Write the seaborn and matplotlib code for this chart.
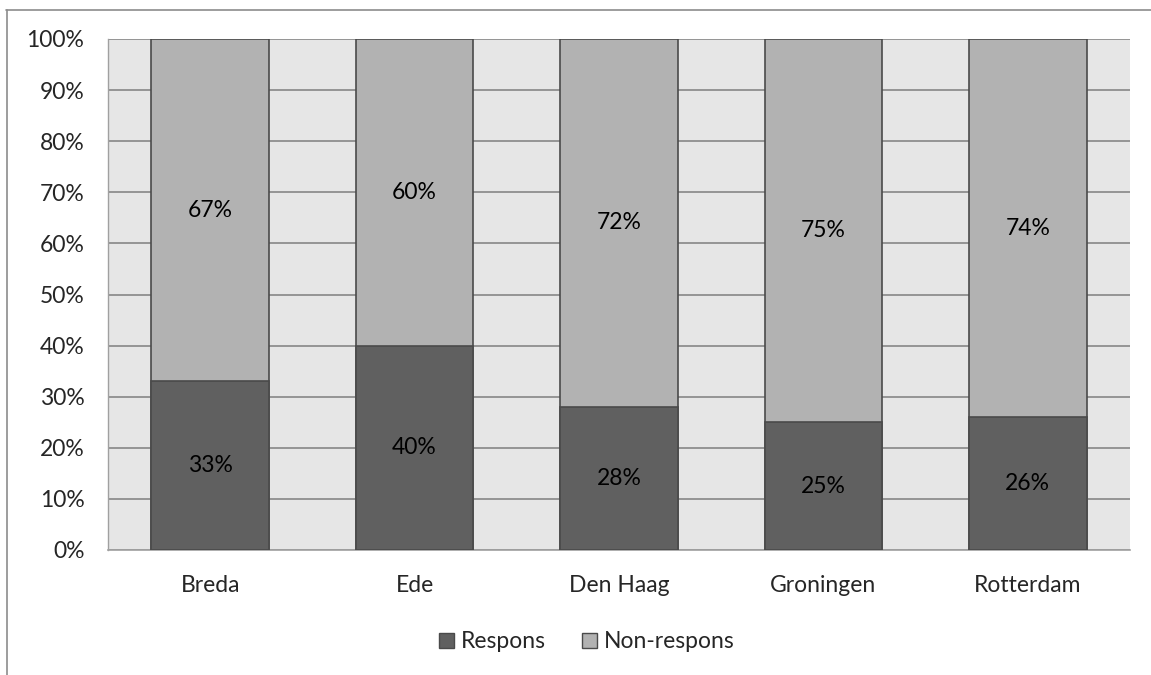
import matplotlib
matplotlib.use("Agg")
import matplotlib.pyplot as plt
import seaborn as sns
import pandas as pd
from matplotlib.lines import Line2D
from matplotlib.patches import Patch

cities = ["Breda", "Ede", "Den Haag", "Groningen", "Rotterdam"]
respons = [33, 40, 28, 25, 26]
non_respons = [67, 60, 72, 75, 74]
yticks = [0, 10, 20, 30, 40, 50, 60, 70, 80, 90, 100]

dark = "#606060"
light = "#b2b2b2"
edge = "#4a4a4a"
FS = 16.5

sns.set_theme(style="white")
plt.rcParams['font.family'] = ['Lato', 'DejaVu Sans']

df = pd.DataFrame({"city": cities, "respons": respons, "non": non_respons})
df["total"] = df["respons"] + df["non"]

fig = plt.figure(figsize=(11.51, 6.75), dpi=100)
ax = fig.add_axes([108/1151, 1-550/675, (1130-108)/1151, (550-39)/675])
ax.set_facecolor("#e6e6e6")

sns.barplot(data=df, x="city", y="total", color=light, edgecolor=edge, linewidth=1.2,
            width=0.575, saturation=1, ax=ax, zorder=3)
sns.barplot(data=df, x="city", y="respons", color=dark, edgecolor=edge, linewidth=1.2,
            width=0.575, saturation=1, ax=ax, zorder=4)

for i, (r, n) in enumerate(zip(respons, non_respons)):
    ax.text(i, r/2, f"{r}%", ha="center", va="center", fontsize=FS, color="black", zorder=5)
    ax.text(i, r + n/2, f"{n}%", ha="center", va="center", fontsize=FS, color="black", zorder=5)

ax.set_ylim(0, 100)
ax.set_xlim(-0.5, 4.5)
ax.set_yticks(yticks)
ax.set_yticklabels([f"{t}%" for t in yticks], fontsize=FS)
ax.tick_params(axis="x", labelsize=FS, length=0, pad=18)
ax.tick_params(axis="y", length=0, pad=17)
ax.yaxis.grid(True, color="#868686", linewidth=1.2, zorder=1)
ax.set_axisbelow(True)
ax.set_xlabel("")
ax.set_ylabel("")
for s in ["top", "right"]:
    ax.spines[s].set_visible(False)
ax.spines["left"].set_color("#a0a0a0")
ax.spines["bottom"].set_color("#a0a0a0")
ax.spines["left"].set_linewidth(1)
ax.spines["bottom"].set_linewidth(1.2)

handles = [Patch(facecolor=dark, edgecolor=edge, label="Respons"),
           Patch(facecolor=light, edgecolor=edge, label="Non-respons")]
fig.legend(handles=handles, loc="center", bbox_to_anchor=(587/1151, 1-642/675), ncol=2,
           frameon=False, fontsize=FS, handlelength=0.65, handleheight=0.65,
           handletextpad=0.3, columnspacing=1.6)

# figure border (top and left)
fig.add_artist(Line2D([6/1151, 1], [1-9.5/675, 1-9.5/675], color="#8c8c8c", linewidth=1.2, transform=fig.transFigure))
fig.add_artist(Line2D([6.5/1151, 6.5/1151], [0, 1-9.5/675], color="#8c8c8c", linewidth=1.2, transform=fig.transFigure))

fig.savefig("out.png", dpi=100)
